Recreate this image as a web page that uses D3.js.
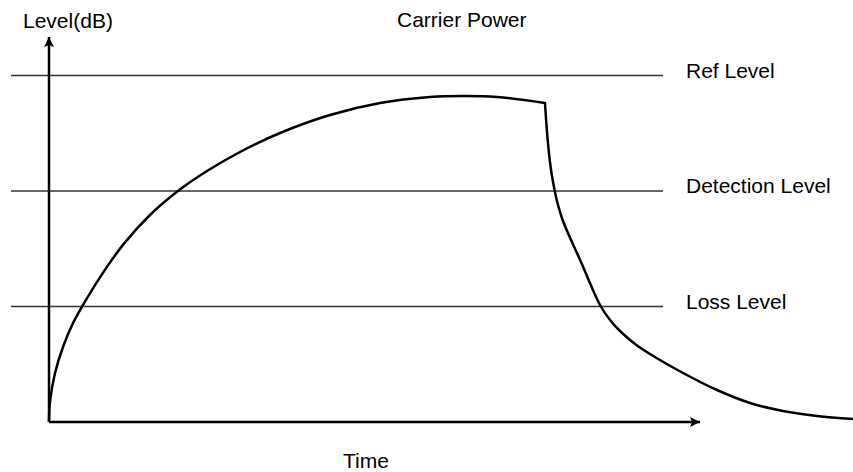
<!DOCTYPE html>
<html>
<head>
<meta charset="utf-8">
<script src="https://cdn.jsdelivr.net/npm/d3@7"></script>
<style>
  body { margin: 0; background: #fff; }
  text { font-family: "Liberation Sans", Arial, Helvetica, sans-serif; font-size: 21px; fill: #000; }
</style>
</head>
<body>
<div class="view"></div>
<script>
// level thresholds (dB, arbitrary units)
const levelNames = ['Ref Level', 'Detection Level', 'Loss Level']
const levelValues = [90, 60, 30]

// carrier power curve, rising part then the drop
const riseTime = [0, 0.12, 0.75, 1.74, 2.99, 4.23, 6.34, 9.2, 12.56, 16.04, 19.65, 23.76, 28.73, 34.95, 41.17, 47.39, 51.49, 55.72, 61.69]
const riseLevel = [0, 5.19, 12.73, 19.48, 25.71, 30.39, 37.58, 46.0, 53.77, 60.0, 65.19, 70.13, 75.06, 79.74, 82.86, 84.42, 84.68, 84.42, 82.86]
const fallTime = [61.69, 61.82, 61.94, 62.06, 62.31, 62.56, 62.81, 63.18, 63.93, 66.17, 68.53, 69.78, 71.02, 72.89, 74.75, 78.86, 83.08, 87.19, 91.29, 95.52, 100]
const fallLevel = [82.86, 78.7, 75.32, 72.47, 67.53, 63.9, 61.04, 57.4, 52.21, 41.56, 30.39, 26.49, 23.64, 20.26, 17.66, 12.73, 8.31, 4.94, 2.86, 1.56, 0.78]

const w = 853
const h = 472

const svg = d3.select('.view')
    .append('svg')
    .attr('width', w)
    .attr('height', h)

const xScale = d3.scaleLinear().domain([0, 100]).range([49, 853])
const yScale = d3.scaleLinear().domain([0, 100]).range([422, 37])

// arrow heads
const defs = svg.append('defs')
defs.append('marker')
    .attr('id', 'arrow')
    .attr('viewBox', '0 0 10 10')
    .attr('refX', 10)
    .attr('refY', 5)
    .attr('markerWidth', 4)
    .attr('markerHeight', 4)
    .attr('markerUnits', 'strokeWidth')
    .attr('orient', 'auto')
    .append('path')
    .attr('d', 'M0,0 L10,5 L0,10 L2,5 Z')
    .attr('fill', '#000')

// level lines
svg.selectAll('.level')
    .data(levelValues)
    .enter()
    .append('line')
    .attr('class', 'level')
    .attr('x1', 11)
    .attr('x2', 663)
    .attr('y1', (d) => yScale(d))
    .attr('y2', (d) => yScale(d))
    .attr('stroke', '#333')
    .attr('stroke-width', 1.5)

svg.selectAll('.level-label')
    .data(levelNames)
    .enter()
    .append('text')
    .attr('class', 'level-label')
    .attr('x', 686)
    .attr('y', (d, i) => yScale(levelValues[i]) + 2)
    .text((d) => d)

// axes
svg.append('line')
    .attr('x1', xScale(0))
    .attr('y1', yScale(0))
    .attr('x2', xScale(0))
    .attr('y2', yScale(100))
    .attr('stroke', '#000')
    .attr('stroke-width', 2.5)
    .attr('marker-end', 'url(#arrow)')

svg.append('line')
    .attr('x1', xScale(0))
    .attr('y1', yScale(0))
    .attr('x2', 700)
    .attr('y2', yScale(0))
    .attr('stroke', '#000')
    .attr('stroke-width', 2.5)
    .attr('marker-end', 'url(#arrow)')

// curve
const line = d3.line()
    .x((d) => xScale(d[0]))
    .y((d) => yScale(d[1]))
    .curve(d3.curveCatmullRom.alpha(0.5))

const rise = riseTime.map((t, i) => [t, riseLevel[i]])
const fall = fallTime.map((t, i) => [t, fallLevel[i]])

svg.append('path')
    .attr('d', line(rise) + line(fall).replace('M', 'L'))
    .attr('fill', 'none')
    .attr('stroke', '#000')
    .attr('stroke-width', 2.5)
    .attr('stroke-linejoin', 'miter')

// labels
svg.append('text').attr('x', 23).attr('y', 28).text('Level(dB)')
svg.append('text').attr('x', 397).attr('y', 27).text('Carrier Power')
svg.append('text').attr('x', 343).attr('y', 468).text('Time')
</script>
</body>
</html>
